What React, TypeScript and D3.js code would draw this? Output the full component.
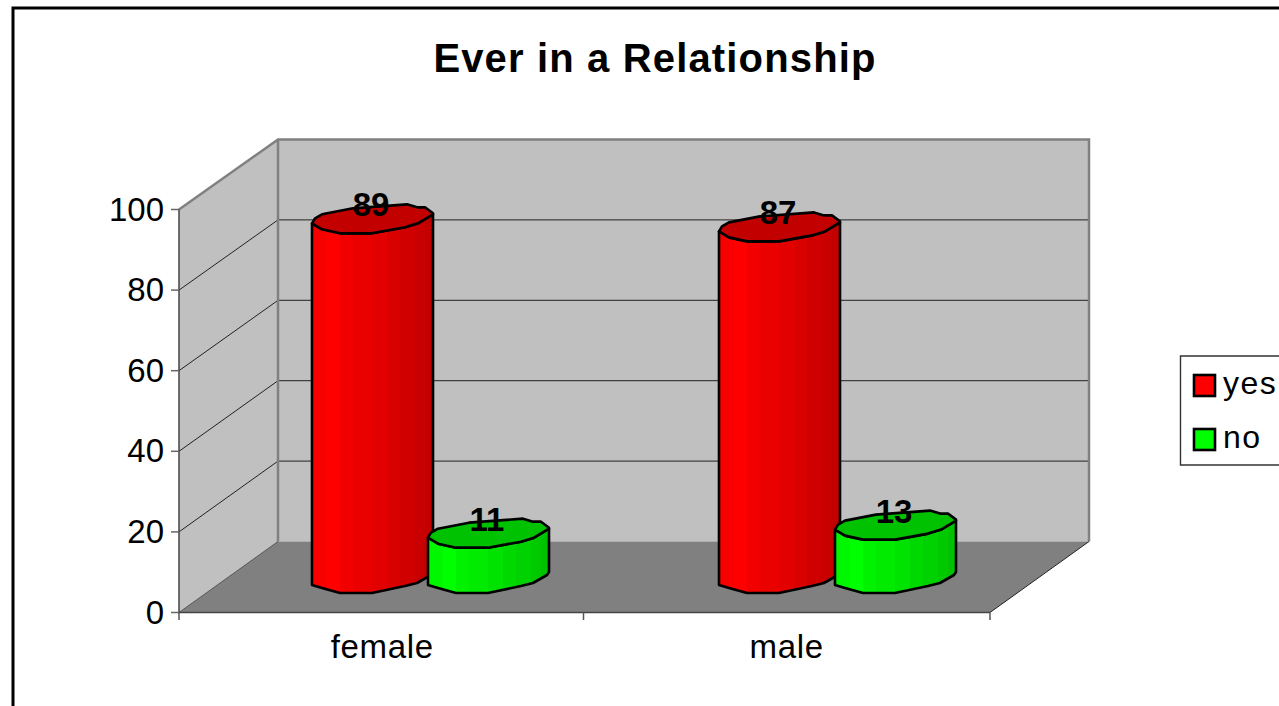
import React from "react";
import * as d3 from "d3";

const title = "Ever in a Relationship";
const categories = ["female", "male"];
const seriesNames = ["yes", "no"];
const yesValues = [89, 87];
const noValues = [11, 13];
const yTicks = [0, 20, 40, 60, 80, 100];

const FONT = "'Liberation Sans', Arial, sans-serif";
const W = 1279, H = 706;
const yFront = d3.scaleLinear().domain([0, 100]).range([612.5, 209.5]);
const yBack = d3.scaleLinear().domain([0, 100]).range([541.5, 139.5]);
const xFront = d3.scaleBand().domain(categories).range([179, 988]);
const barLeft = d3.scalePoint().domain(categories).range([312, 719]);
const seriesOffset = d3.scalePoint().domain(seriesNames).range([0, 116]);
const barTop = d3.scaleLinear().domain([0, 100]).range([592, 189]);
const BAR_FLOOR = 593;

// cylinder outline, relative to bar left edge and the front-most point of an end cap
const capOutline: [number, number][] = [
  [0, -10], [3, -15], [10, -19], [41, -25], [95, -29], [105, -26], [113, -26], [121, -20], [121, -19],
  [106, -10], [93, -6], [60, 0], [28, 0], [10, -4],
];
const frontLower: [number, number][] = [[0, -8], [10, -5], [28, 0], [60, 0], [93, -7], [105, -10], [119, -18], [121, -21]];
const stripEdges = [0, 15, 28, 41, 60, 75, 88, 103, 113, 121];
const stripShades = [0.97, 1, 0.95, 0.92, 0.89, 0.85, 0.82, 0.79, 0.76];
const topShade = 0.76;

const App = () => {
  const line = d3.line().curve(d3.curveLinear);
  const rows = categories.flatMap((c, i) => [
    { c, s: seriesNames[0], v: yesValues[i], base: [255, 0, 0] },
    { c, s: seriesNames[1], v: noValues[i], base: [0, 255, 0] },
  ]);
  const col = (b: number[], k: number) => d3.rgb(b[0] * k, b[1] * k, b[2] * k).toString();
  return (
    <svg width={W} height={H} style={{ position: "fixed", left: 0, top: 0, background: "#fff" }} fontFamily={FONT}>
      <path d="M13 706V8H1279" fill="none" stroke="#000" strokeWidth={3} />
      <text x={655} y={72} textAnchor="middle" fontSize={40} fontWeight="bold" letterSpacing={1.15}>{title}</text>

      {/* walls */}
      <polygon points={`179,${yFront(0)} 179,${yFront(100)} 278,${yBack(100)} 278,${yBack(0)}`} fill="#c0c0c0" />
      <rect x={278} y={yBack(100)} width={811} height={yBack(0) - yBack(100)} fill="#c0c0c0" />
      <polygon points={`179,${yFront(0)} 278,${yBack(0)} 1089,${yBack(0)} 990,${yFront(0)}`} fill="#808080" />
      {yTicks.slice(1, -1).map(t => (
        <g key={t} stroke="#222" strokeWidth={1}>
          <line x1={179} x2={278} y1={yFront(t)} y2={yBack(t)} />
          <line x1={278} x2={1089} y1={yBack(t)} y2={yBack(t)} />
        </g>
      ))}
      <path d={`M179 ${yFront(100)}L278 ${yBack(100)}H1089V${yBack(0)}M278 ${yBack(100)}V${yBack(0)}`} fill="none" stroke="#808080" strokeWidth={2.5} />
      <path d={`M179 ${yFront(0)}L278 ${yBack(0)}`} stroke="#555" fill="none" />
      <path d={`M990 ${yFront(0)}L1089 ${yBack(0)}`} stroke="#222" fill="none" />

      {/* axes */}
      <path d={`M179 ${yFront(100)}V${yFront(0)}H990`} fill="none" stroke="#444" strokeWidth={1.5} />
      {yTicks.map(t => (
        <g key={t}>
          <line x1={171} x2={179} y1={yFront(t)} y2={yFront(t)} stroke="#666" strokeWidth={1.5} />
          <text x={164} y={yFront(t) + 11} textAnchor="end" fontSize={33}>{t}</text>
        </g>
      ))}
      {[179, ...categories.map((c, i) => xFront(c)! + xFront.bandwidth() + i * 2)].map(x => (
        <line key={x} x1={x} x2={x} y1={612} y2={620} stroke="#555" strokeWidth={1.5} />
      ))}
      {categories.map(c => (
        <text key={c} x={xFront(c)! + xFront.bandwidth() / 2 + 1} y={658} textAnchor="middle" fontSize={33} letterSpacing={0.7}>{c}</text>
      ))}

      {/* cylinders */}
      {rows.map(r => {
        const x0 = barLeft(r.c)! + seriesOffset(r.s)!;
        const top = barTop(r.v);
        const cap = capOutline.map(([a, b]) => [x0 + a, top + b] as [number, number]);
        const lower = frontLower.map(([a, b]) => [x0 + a, BAR_FLOOR + b] as [number, number]);
        const topFront = capOutline.slice(8).map(([a, b]) => [x0 + a, top + b] as [number, number]);
        const body = [[x0, top - 10], ...lower, [x0 + 121, top - 19], ...topFront.slice(1)] as [number, number][];
        const id = `clip-${r.c}-${r.s}`;
        return (
          <g key={id}>
            <clipPath id={id}><path d={line(body)!} /></clipPath>
            <g clipPath={`url(#${id})`}>
              {stripShades.map((k, i) => (
                <rect key={i} x={x0 + stripEdges[i]} y={top - 30} width={stripEdges[i + 1] - stripEdges[i] + 0.5}
                  height={BAR_FLOOR - top + 40} fill={col(r.base, k)} />
              ))}
            </g>
            <path d={line(body)! + "Z"} fill="none" stroke="#000" strokeWidth={2.6} strokeLinejoin="round" />
            <path d={line(cap)! + "Z"} fill={col(r.base, topShade)} stroke="#000" strokeWidth={2.6} strokeLinejoin="round" />
          </g>
        );
      })}
      {rows.map(r => (
        <text key={r.c + r.s} x={barLeft(r.c)! + seriesOffset(r.s)! + 59} y={barTop(r.v) - 17}
          textAnchor="middle" fontSize={33} fontWeight="bold">{r.v}</text>
      ))}

      {/* legend */}
      <path d="M1279 356H1180.5V465H1279" fill="#fff" stroke="#333" strokeWidth={1.4} />
      {seriesNames.map((s, i) => (
        <g key={s}>
          <rect x={1194} y={375 + i * 54} width={21} height={21} fill={i === 0 ? "#ff0000" : "#00ff00"} stroke="#000" strokeWidth={2.6} />
          <text x={1223} y={394 + i * 54} fontSize={32} letterSpacing={1.5}>{s}</text>
        </g>
      ))}
    </svg>
  );
};

export default App;
